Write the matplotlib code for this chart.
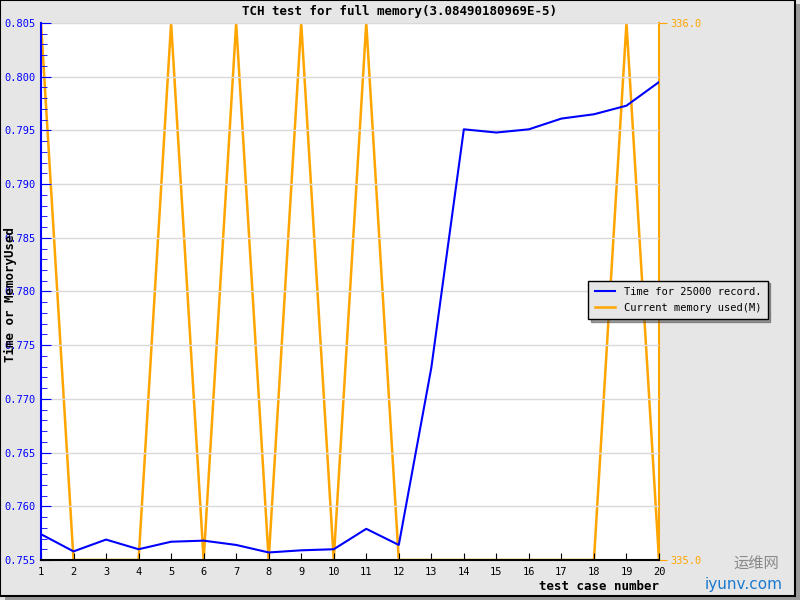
import matplotlib
matplotlib.use('Agg')
import matplotlib.pyplot as plt
from matplotlib.patches import Rectangle

test_case = list(range(1, 21))
time_25000 = [0.7574, 0.7558, 0.7569, 0.7560, 0.7567, 0.7568, 0.7564, 0.7557, 0.7559, 0.7560,
              0.7579, 0.7564, 0.7729, 0.7951, 0.7948, 0.7951, 0.7961, 0.7965, 0.7973, 0.7995]
memory_used = [336, 335, 335, 335, 336, 335, 336, 335, 336, 335,
               336, 335, 335, 335, 335, 335, 335, 335, 336, 335]
left_ticks = [0.755, 0.760, 0.765, 0.770, 0.775, 0.780, 0.785, 0.790, 0.795, 0.800, 0.805]

mono = 'DejaVu Sans Mono'
blue = '#0000ff'
orange = '#ffa500'

fig = plt.figure(figsize=(8, 6), dpi=100)
fig.patch.set_facecolor('#e6e6e6')

# outer frame with shadow
fig.patches.append(Rectangle((0.006, 0.0), 0.994, 0.994, transform=fig.transFigure,
                             facecolor='#9a9a9a', edgecolor='none', zorder=-2))
fig.patches.append(Rectangle((0.0, 0.007), 0.994, 0.993, transform=fig.transFigure,
                             facecolor='#e6e6e6', edgecolor='black', linewidth=1.5, zorder=-1))

ax = fig.add_axes([0.05125, 0.0667, 0.7725, 0.895])
ax.plot(test_case, time_25000, color=blue, linewidth=1.5, label='Time for 25000 record.', zorder=3)
ax.set_xlim(1, 20)
ax.set_ylim(0.755, 0.805)
ax.set_xticks(test_case)
ax.set_yticks(left_ticks)
ax.set_yticklabels(['%.3f' % v for v in left_ticks])
ax.set_yticks([0.755 + 0.001 * i for i in range(51)], minor=True)
ax.grid(axis='y', color='#d9d9d9', linewidth=1)
ax.tick_params(axis='y', which='both', colors=blue, direction='in', labelcolor=blue,
               labelsize=7.5, pad=4)
ax.tick_params(axis='y', which='major', length=7)
ax.tick_params(axis='y', which='minor', length=4)
ax.tick_params(axis='x', direction='in', length=5, labelsize=7.5, pad=5)
for lbl in ax.get_xticklabels() + ax.get_yticklabels():
    lbl.set_family(mono)
ax.spines['left'].set_color(blue)
ax.spines['left'].set_linewidth(1.5)
ax.spines['bottom'].set_linewidth(1.5)
ax.spines['top'].set_visible(False)
ax.spines['right'].set_visible(False)

ax2 = ax.twinx()
ax2.plot(test_case, memory_used, color=orange, linewidth=1.8, label='Current memory used(M)', zorder=2)
ax2.set_ylim(335, 336)
ax2.set_yticks([335, 336])
ax2.set_yticklabels(['335.0', '336.0'])
ax2.tick_params(axis='y', colors=orange, labelcolor=orange, direction='out', length=6,
                labelsize=7.5, pad=2)
for lbl in ax2.get_yticklabels():
    lbl.set_family(mono)
ax2.spines['right'].set_color(orange)
ax2.spines['right'].set_linewidth(1.5)
ax2.spines['top'].set_visible(False)
ax2.spines['left'].set_visible(False)
ax2.spines['bottom'].set_visible(False)
ax.set_zorder(ax2.get_zorder() + 1)
ax.patch.set_visible(False)
ax2.patch.set_visible(True)
ax2.patch.set_facecolor('white')

fig.text(0.5, 0.98, 'TCH test for full memory(3.08490180969E-5)', ha='center', va='center',
         family=mono, fontweight='bold', fontsize=9)
fig.text(0.824, 0.023, 'test case number', ha='right', va='center',
         family=mono, fontweight='bold', fontsize=9)
fig.text(0.013, 0.51, 'Time or MemoryUsed', ha='center', va='center', rotation=90,
         family=mono, fontweight='bold', fontsize=9)

h1, l1 = ax.get_legend_handles_labels()
h2, l2 = ax2.get_legend_handles_labels()
leg = fig.legend(h1 + h2, l1 + l2, loc='center left', bbox_to_anchor=(0.729, 0.50),
                 prop={'family': mono, 'size': 7.5}, frameon=True, fancybox=False,
                 shadow=True, borderpad=0.6, handlelength=2.0, labelspacing=0.6)
leg.get_frame().set_facecolor('#e6e6e6')
leg.get_frame().set_edgecolor('black')
leg.get_frame().set_alpha(1)

# watermark
fig.text(0.945, 0.06, '运维网', ha='center', va='center', color='#8a8a8a', fontsize=11,
         family=['Noto Sans CJK SC', 'DejaVu Sans'])
fig.text(0.93, 0.025, 'iyunv.com', ha='center', va='center', color='#1a7ad0', fontsize=11,
         family='DejaVu Sans')

fig.savefig('out.png', dpi=100, facecolor=fig.get_facecolor())
